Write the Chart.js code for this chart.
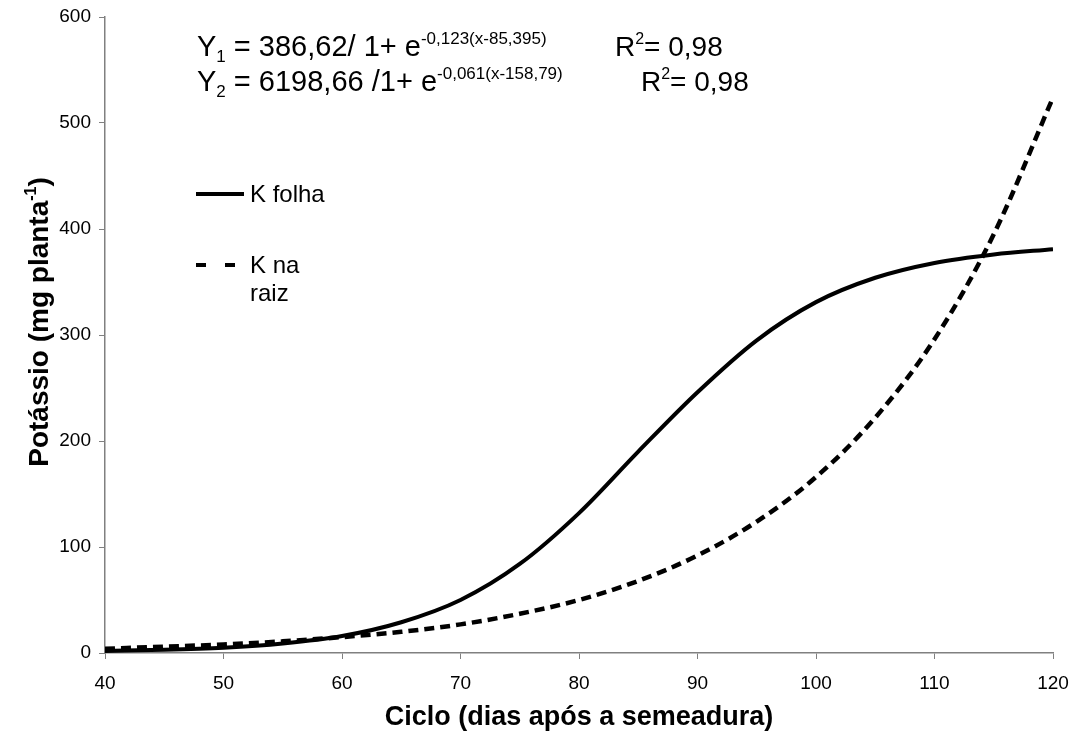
<!DOCTYPE html>
<html>
<head>
<meta charset="utf-8">
<script src="https://cdn.jsdelivr.net/npm/chart.js@4.4.1/dist/chart.umd.min.js"></script>
<style>
  html, body { margin: 0; padding: 0; background: #fff; }
  #wrap { width: 1074px; height: 739px; }
</style>
</head>
<body>
<div id="wrap"><canvas id="grafico"></canvas></div>
<script>
// dias após a semeadura
const dias = [40, 45, 50, 55, 60, 65, 70, 75, 80, 85, 90, 95, 100, 105, 110, 115, 120];
// K folha (mg planta-1)
const kFolha = [2, 3, 5, 9, 16, 29, 50, 84, 132, 190, 246, 295, 331, 354, 368, 376, 381];
// K na raiz (mg planta-1)
const kRaiz = [4, 6, 8, 11, 15, 20, 27, 37, 50, 68, 92, 124, 166, 222, 296, 395, 524];
const nomes = ['K folha', ['K na', 'raiz']];

const FONTE = '"Liberation Sans", Arial, sans-serif';
const CINZA = '#808080';

const pontos = (ys) => dias.map((d, i) => ({ x: d, y: ys[i] }));

// texto com sub/sobrescrito
function textoRico(ctx, x, y, partes, tam) {
    ctx.textBaseline = 'alphabetic';
    ctx.textAlign = 'left';
    partes.forEach(p => {
        let t = tam, dy = 0;
        if (p.sup) { t = Math.round(tam * 0.58); dy = -tam * 0.42; }
        if (p.sub) { t = Math.round(tam * 0.6); dy = tam * 0.2; }
        ctx.font = (p.bold ? 'bold ' : '') + t + 'px ' + FONTE;
        ctx.fillText(p.t, x, y + dy);
        x += ctx.measureText(p.t).width;
    });
    return x;
}

function larguraRica(ctx, partes, tam) {
    let w = 0;
    partes.forEach(p => {
        const t = p.sup ? Math.round(tam * 0.58) : p.sub ? Math.round(tam * 0.6) : tam;
        ctx.font = (p.bold ? 'bold ' : '') + t + 'px ' + FONTE;
        w += ctx.measureText(p.t).width;
    });
    return w;
}

const anotacoes = {
    id: 'anotacoes',
    afterDraw(chart) {
        const ctx = chart.ctx;
        ctx.save();
        ctx.fillStyle = '#000';

        // equações
        textoRico(ctx, 197, 56, [
            { t: 'Y' }, { t: '1', sub: true }, { t: ' = 386,62/ 1+ e' }, { t: '-0,123(x-85,395)', sup: true }
        ], 29);
        textoRico(ctx, 615, 56, [{ t: 'R' }, { t: '2', sup: true }, { t: '= 0,98' }], 28);
        textoRico(ctx, 197, 91, [
            { t: 'Y' }, { t: '2', sub: true }, { t: ' = 6198,66 /1+ e' }, { t: '-0,061(x-158,79)', sup: true }
        ], 29);
        textoRico(ctx, 641, 91, [{ t: 'R' }, { t: '2', sup: true }, { t: '= 0,98' }], 28);

        // legenda
        ctx.strokeStyle = '#000';
        ctx.lineWidth = 4;
        ctx.setLineDash([]);
        ctx.beginPath(); ctx.moveTo(196, 194); ctx.lineTo(244, 194); ctx.stroke();
        ctx.setLineDash([10, 19]);
        ctx.beginPath(); ctx.moveTo(196, 265); ctx.lineTo(244, 265); ctx.stroke();
        ctx.setLineDash([]);
        ctx.font = '24px ' + FONTE;
        ctx.textBaseline = 'middle';
        ctx.fillText(nomes[0], 250, 195);
        ctx.fillText(nomes[1][0], 250, 266);
        ctx.fillText(nomes[1][1], 250, 294);

        // título do eixo y
        const partesY = [
            { t: 'Potássio (mg planta', bold: true }, { t: '-1', sup: true, bold: true }, { t: ')', bold: true }
        ];
        const w = larguraRica(ctx, partesY, 28);
        ctx.translate(38, 322);
        ctx.rotate(-Math.PI / 2);
        textoRico(ctx, -w / 2, 10, partesY, 28);
        ctx.restore();
    }
};

new Chart(document.getElementById('grafico'), {
    type: 'line',
    data: {
        datasets: [
            {
                label: nomes[0],
                data: pontos(kFolha),
                borderColor: '#000',
                borderWidth: 4,
                pointRadius: 0,
                cubicInterpolationMode: 'monotone',
                fill: false
            },
            {
                label: nomes[1].join(' '),
                data: pontos(kRaiz),
                borderColor: '#000',
                borderWidth: 4.5,
                borderDash: [10, 6],
                pointRadius: 0,
                cubicInterpolationMode: 'monotone',
                fill: false
            }
        ]
    },
    options: {
        responsive: true,
        maintainAspectRatio: false,
        animation: false,
        layout: { padding: { left: 0, right: 21, top: 17, bottom: 0 } },
        plugins: {
            legend: { display: false },
            tooltip: { enabled: false }
        },
        scales: {
            x: {
                type: 'linear',
                min: 40,
                max: 120,
                ticks: {
                    stepSize: 10,
                    color: '#000',
                    padding: 13,
                    font: { family: FONTE, size: 19 }
                },
                grid: { drawOnChartArea: false, tickLength: 6, color: CINZA },
                border: { color: CINZA, width: 1.5 },
                title: {
                    display: true,
                    text: 'Ciclo (dias após a semeadura)',
                    color: '#000',
                    padding: { top: 0, bottom: 5 },
                    font: { family: FONTE, size: 27, weight: 'bold' }
                },
                afterFit(scale) {
                    scale.height = 86;
                    scale.paddingLeft = 0;
                    scale.paddingRight = 0;
                }
            },
            y: {
                min: 0,
                max: 600,
                ticks: {
                    stepSize: 100,
                    color: '#000',
                    padding: 8,
                    font: { family: FONTE, size: 19 }
                },
                grid: { drawOnChartArea: false, tickLength: 6, color: CINZA },
                border: { color: CINZA, width: 1.5 },
                afterFit(scale) {
                    scale.width = 105;
                    scale.paddingTop = 0;
                    scale.paddingBottom = 0;
                }
            }
        }
    },
    plugins: [anotacoes]
});
</script>
</body>
</html>
